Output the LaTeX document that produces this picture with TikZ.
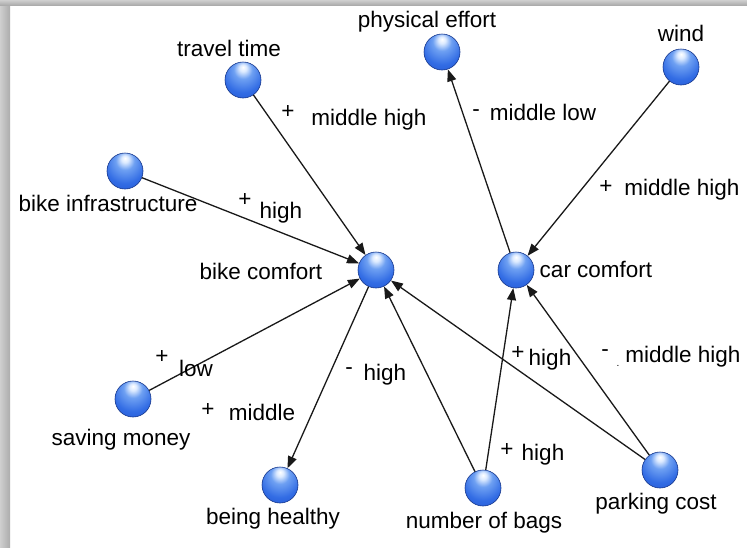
\documentclass[tikz,border=0pt]{standalone}
\usepackage{fontspec}
\setmainfont{Liberation Sans}
\usetikzlibrary{arrows.meta}

\definecolor{inkline}{RGB}{25,25,25}
\definecolor{sphA}{RGB}{220,234,255}
\definecolor{sphB}{RGB}{110,160,242}
\definecolor{sphC}{RGB}{50,108,228}
\definecolor{sphD}{RGB}{28,74,200}
\definecolor{sphE}{RGB}{18,50,150}
\definecolor{sphRim}{RGB}{22,55,140}

% glossy blue ball with its highlight near the top
\pgfdeclareradialshading{glossyball}{\pgfpoint{0bp}{18bp}}{%
  color(0bp)=(white);
  color(5bp)=(sphA);
  color(13bp)=(sphB);
  color(28bp)=(sphC);
  color(50bp)=(sphD);
  color(68bp)=(sphE)}

\tikzset{
  ball/.style={circle, minimum size=36pt, inner sep=0pt,
    shading=glossyball, draw=sphRim, line width=0.6pt},
  caption/.style={inner sep=0pt, anchor=base, text=black,
    font=\fontsize{22.5}{26}\selectfont},
  sign/.style={inner sep=0pt, anchor=center, text=black,
    font=\fontsize{22.5}{26}\selectfont},
  link/.style={draw=inkline, line width=1.3pt,
    -{Triangle[length=12pt,width=9pt]}},
}

\begin{document}
\begin{tikzpicture}[x=1pt, y=-1pt]
  \useasboundingbox (0,0) rectangle (747,547);
  \fill[white] (0,0) rectangle (747,547);
  % frame shadow along the left and top edges
  \shade[left color=gray!38, right color=gray!65] (0,0) rectangle (10,547);
  \shade[top color=gray!38, bottom color=gray!65] (0,0) rectangle (747,5);

  % concepts
  \node[ball] (tt) at (243,80) {};
  \node[ball] (pe) at (442,52) {};
  \node[ball] (wi) at (681,67) {};
  \node[ball] (bi) at (125,171) {};
  \node[ball] (bc) at (376,270) {};
  \node[ball] (cc) at (516,270) {};
  \node[ball] (sm) at (133,399) {};
  \node[ball] (bh) at (280,485) {};
  \node[ball] (nb) at (483,488) {};
  \node[ball] (pc) at (660,470) {};

  % links
  \draw[link] (tt) -- (bc);
  \draw[link] (bi) -- (bc);
  \draw[link] (sm) -- (bc);
  \draw[link] (bc) -- (bh);
  \draw[link] (nb) -- (bc);
  \draw[link] (pc) -- (bc);
  \draw[link] (cc) -- (pe);
  \draw[link] (wi) -- (cc);
  \draw[link] (nb) -- (cc);
  \draw[link] (pc) -- (cc);

  % concept names
  \node[caption] (tt-l) at (229,56) {travel time};
  \node[caption] (pe-l) at (427,27) {physical effort};
  \node[caption] (wi-l) at (681,41) {wind};
  \node[caption] (bi-l) at (108,211) {bike infrastructure};
  \node[caption] (bc-l) at (261,279) {bike comfort};
  \node[caption] (cc-l) at (596,277) {car comfort};
  \node[caption] (sm-l) at (121,445) {saving money};
  \node[caption] (bh-l) at (273,524) {being healthy};
  \node[caption] (nb-l) at (484,528) {number of bags};
  \node[caption] (pc-l) at (656,509) {parking cost};

  % link signs and strengths
  \node[sign] (tt-s) at (288,112) {+};
  \node[caption] (tt-w) at (369,125) {middle high};
  \node[sign] (pe-s) at (476,113) {-};
  \node[caption] (pe-w) at (543,120) {middle low};
  \node[sign] (wi-s) at (606,187) {+};
  \node[caption] (wi-w) at (682,195) {middle high};
  \node[sign] (bi-s) at (245,200) {+};
  \node[caption] (bi-w) at (281,218) {high};
  \node[sign] (sm-s) at (162,357) {+};
  \node[caption] (sm-w) at (196,376) {low};
  \node[sign] (bh-s) at (208,410) {+};
  \node[caption] (bh-w) at (262,420) {middle};
  \node[sign] (nbb-s) at (349,371) {-};
  \node[caption] (nbb-w) at (385,380) {high};
  \node[sign] (pcb-s) at (518,353) {+};
  \node[caption] (pcb-w) at (550,365) {high};
  \node[sign] (pcc-s) at (605,353) {-};
  \node[caption] (pcc-w) at (683,362) {middle high};
  \node[sign, font=\fontsize{10}{12}\selectfont] (pcc-d) at (618,366) {.};
  \node[sign] (nbc-s) at (507,450) {+};
  \node[caption] (nbc-w) at (543,460) {high};
\end{tikzpicture}
\end{document}
